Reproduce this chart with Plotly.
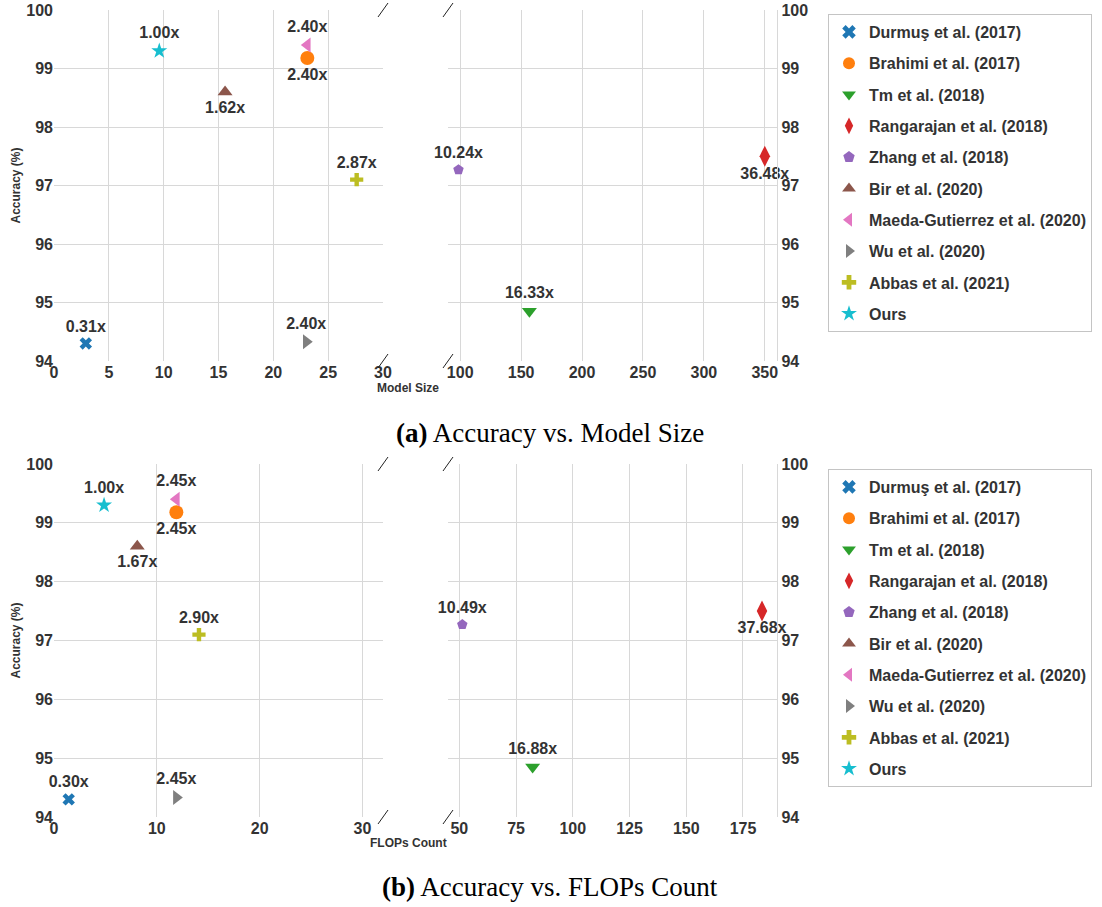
import plotly.graph_objects as go

# ---------------- data ----------------
methods = ["Durmuş et al. (2017)", "Brahimi et al. (2017)", "Tm et al. (2018)",
           "Rangarajan et al. (2018)", "Zhang et al. (2018)", "Bir et al. (2020)",
           "Maeda-Gutierrez et al. (2020)", "Wu et al. (2020)", "Abbas et al. (2021)", "Ours"]
accuracy = [94.3, 99.18, 94.85, 97.5, 97.27, 98.6, 99.4, 94.33, 97.1, 99.3]

model_size = [2.9, 23.1, 156.8, 350.0, 98.6, 15.6, 23.1, 23.0, 27.6, 9.6]
size_ratio = ["0.31x", "2.40x", "16.33x", "36.48x", "10.24x", "1.62x", "2.40x", "2.40x", "2.87x", "1.00x"]

flops = [1.43, 11.9, 82.3, 183.4, 51.3, 8.1, 11.9, 11.9, 14.1, 4.87]
flops_ratio = ["0.30x", "2.45x", "16.88x", "37.68x", "10.49x", "1.67x", "2.45x", "2.45x", "2.90x", "1.00x"]

label_pos = ["top center", "bottom center", "top center", "bottom center", "top center",
             "bottom center", "top center", "top center", "top center", "top center"]

colors = ["#1f77b4", "#ff7f0e", "#2ca02c", "#d62728", "#9467bd",
          "#8c564b", "#e377c2", "#7f7f7f", "#bcbd22", "#17becf"]
symbols = ["x", "circle", "triangle-down", "diamond-tall", "pentagon",
           "triangle-up", "triangle-left", "triangle-right", "cross", "star"]
sizes = [11, 14, 13, 15, 11, 13, 13, 13, 11, 12]

y_ticks = [94, 95, 96, 97, 98, 99, 100]
size_left_range, size_right_range = [0, 30], [90, 360]
flops_left_range, flops_right_range = [0, 32], [45, 190]
size_left_ticks = [0, 5, 10, 15, 20, 25, 30]
size_right_ticks = [100, 150, 200, 250, 300, 350]
flops_left_ticks = [0, 10, 20, 30]
flops_right_ticks = [50, 75, 100, 125, 150, 175]

# ---------------- figure ----------------
W, H = 1102, 907
FONT = "Liberation Sans"
TXT = "#333333"
GRID = "#d8d8d8"

fig = go.Figure()


def px_x(p):
    return p / W


def px_y(p):
    return 1 - p / H


rows = [
    dict(xs=model_size, labels=size_ratio, lr=size_left_range, rr=size_right_range,
         xl="x", xr="x2", yl="y", yr="y2", legend="legend"),
    dict(xs=flops, labels=flops_ratio, lr=flops_left_range, rr=flops_right_range,
         xl="x3", xr="x4", yl="y3", yr="y4", legend="legend2"),
]

for row in rows:
    for i, name in enumerate(methods):
        xv = row["xs"][i]
        left = xv <= row["lr"][1]
        fig.add_trace(go.Scatter(
            x=[xv], y=[accuracy[i]], mode="markers+text", name=name,
            text=[row["labels"][i]], textposition=label_pos[i],
            textfont=dict(family=FONT, size=16, color=TXT, weight="bold"),
            marker=dict(symbol=symbols[i], color=colors[i], size=sizes[i], line=dict(width=0)),
            xaxis=row["xl"] if left else row["xr"],
            yaxis=row["yl"] if left else row["yr"],
            legend=row["legend"], legendgroup=row["legend"] + str(i),
            cliponaxis=False, hoverinfo="skip",
        ))

tickfont = dict(family=FONT, size=16, color=TXT, weight="bold")
dom_left = [px_x(54), px_x(383)]
dom_right = [px_x(448), px_x(777)]
dom_top = [px_y(361), px_y(10)]
dom_bot = [px_y(817), px_y(464)]

common_x = dict(showgrid=True, gridcolor=GRID, gridwidth=1.4, zeroline=False,
                tickfont=tickfont, ticks="", showline=False, automargin=False)
common_y = dict(showgrid=True, gridcolor=GRID, gridwidth=1.4, zeroline=False,
                tickfont=tickfont, ticks="", range=[94, 100], tickvals=y_ticks, automargin=False)

fig.update_layout(
    xaxis=dict(domain=dom_left, anchor="y", range=size_left_range, tickvals=size_left_ticks, **common_x),
    yaxis=dict(domain=dom_top, anchor="x", side="left", **common_y),
    xaxis2=dict(domain=dom_right, anchor="y2", range=size_right_range, tickvals=size_right_ticks, **common_x),
    yaxis2=dict(domain=dom_top, anchor="x2", side="right", showline=True, linecolor=GRID, linewidth=1.4, **common_y),
    xaxis3=dict(domain=dom_left, anchor="y3", range=flops_left_range, tickvals=flops_left_ticks, **common_x),
    yaxis3=dict(domain=dom_bot, anchor="x3", side="left", **common_y),
    xaxis4=dict(domain=dom_right, anchor="y4", range=flops_right_range, tickvals=flops_right_ticks, **common_x),
    yaxis4=dict(domain=dom_bot, anchor="x4", side="right", showline=True, linecolor=GRID, linewidth=1.4, **common_y),
)

legend_common = dict(
    xanchor="left", yanchor="top", bgcolor="white", bordercolor="#c4c4c4", borderwidth=1,
    font=dict(family=FONT, size=16, color=TXT, weight="bold"),
    traceorder="grouped", tracegroupgap=7.5, itemsizing="constant",
)
fig.update_layout(
    legend=dict(x=px_x(828), y=px_y(14), **legend_common),
    legend2=dict(x=px_x(828), y=px_y(469), **legend_common),
)

# break marks
shapes = []
for xa, ya, side in [("x", "y", 1), ("x2", "y2", 0), ("x3", "y3", 1), ("x4", "y4", 0)]:
    for yy in (0, 1):
        shapes.append(dict(type="line", xref=f"{xa} domain", yref=f"{ya} domain",
                           xsizemode="pixel", ysizemode="pixel", xanchor=side, yanchor=yy,
                           x0=-5, x1=5, y0=-7, y1=7, line=dict(color="#222222", width=1)))
fig.update_layout(shapes=shapes)

ann = []
for yc in (185.5, 640.5):
    ann.append(dict(text="Accuracy (%)", x=px_x(15), y=px_y(yc), textangle=-90,
                    font=dict(family=FONT, size=12, color=TXT, weight="bold")))
ann.append(dict(text="Model Size", x=px_x(408), y=px_y(388),
                font=dict(family=FONT, size=12, color=TXT, weight="bold")))
ann.append(dict(text="FLOPs Count", x=px_x(408), y=px_y(843),
                font=dict(family=FONT, size=12, color=TXT, weight="bold")))
ann.append(dict(text="<b>(a)</b> Accuracy vs. Model Size", x=px_x(550), y=px_y(433),
                font=dict(family="Liberation Serif", size=27, color="black")))
ann.append(dict(text="<b>(b)</b> Accuracy vs. FLOPs Count", x=px_x(550), y=px_y(887),
                font=dict(family="Liberation Serif", size=27, color="black")))
for a in ann:
    a.update(xref="paper", yref="paper", showarrow=False, xanchor="center", yanchor="middle")
fig.update_layout(annotations=ann)

fig.update_layout(width=W, height=H, margin=dict(l=0, r=0, t=0, b=0, pad=0, autoexpand=False),
                  plot_bgcolor="white", paper_bgcolor="white")

fig.write_html("out.html", post_script="document.body.style.margin='0';",
               config={"displayModeBar": False})
